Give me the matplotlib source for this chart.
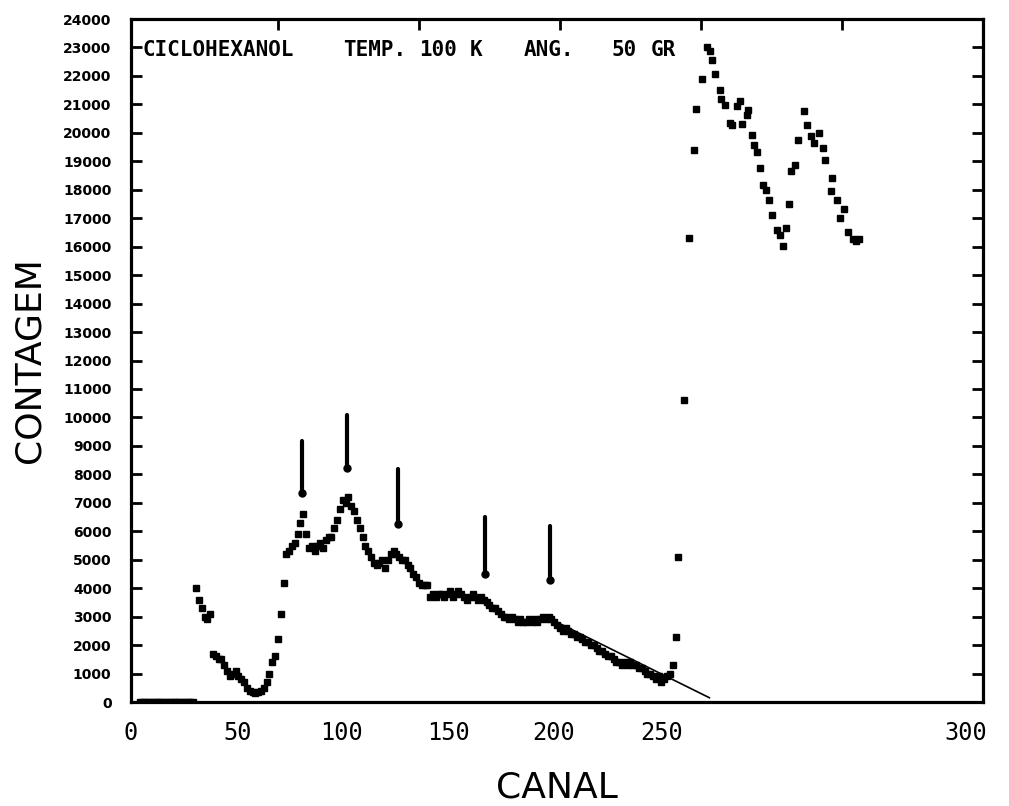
import matplotlib
matplotlib.use('Agg')
import matplotlib.pyplot as plt

# baseline channels (counts ~0)
canal_zero = list(range(1, 21))
contagem_zero = [0] * len(canal_zero)

# low channel region, one point per channel
canal_low = list(range(21, 193))
contagem_low = [
    4000, 3600, 3300, 3000, 2900, 3100, 1700, 1600, 1500, 1500,   # 21-30
    1300, 1100, 900, 1000, 1100, 900, 800, 700, 500, 400,         # 31-40
    350, 300, 350, 400, 500, 700, 1000, 1400, 1600, 2200,         # 41-50
    3100, 4200, 5200, 5300, 5500, 5600, 5900, 6300, 6600, 5900,   # 51-60
    5400, 5500, 5300, 5500, 5600, 5400, 5700, 5800, 5800, 6100,   # 61-70
    6400, 6800, 7100, 7000, 7200, 6900, 6700, 6400, 6100, 5800,   # 71-80
    5500, 5300, 5100, 4900, 4800, 4900, 5000, 4700, 5000, 5200,   # 81-90
    5300, 5200, 5100, 5000, 5000, 4800, 4700, 4500, 4400, 4200,   # 91-100
    4100, 4100, 4100, 3700, 3800, 3700, 3800, 3800, 3700, 3800,   # 101-110
    3900, 3700, 3800, 3900, 3800, 3700, 3600, 3700, 3800, 3700,   # 111-120
    3600, 3700, 3600, 3500, 3400, 3300, 3300, 3200, 3100, 3000,   # 121-130
    3000, 2900, 3000, 2900, 2800, 2900, 2800, 2800, 2900, 2800,   # 131-140
    2900, 2800, 2900, 3000, 2900, 3000, 2900, 2800, 2700, 2600,   # 141-150
    2500, 2600, 2500, 2400, 2400, 2300, 2300, 2200, 2100, 2100,   # 151-160
    2000, 2000, 1900, 1800, 1800, 1700, 1600, 1600, 1500, 1400,   # 161-170
    1400, 1300, 1400, 1300, 1400, 1300, 1300, 1200, 1200, 1100,   # 171-180
    1000, 1000, 900, 800, 900, 700, 800, 900, 1000, 1300,         # 181-190
    2300, 5100,                                                   # 191-192
]

# high channel region (read point by point)
canal_high = [194, 195.7, 197.5, 198.2, 200.4, 202.1, 203.3, 203.9, 205, 206.8,
              207.2, 208.6, 210.3, 211, 212.7, 213.9, 214.4, 216.2, 216.8, 218,
              218.9, 220, 221.1, 222, 222.9, 224, 225.2, 227, 228.2, 229.1,
              230.3, 231.1, 232, 233.2, 234.4, 236.4, 237.7, 239.1, 240.2, 241.7,
              243.2, 244.1, 246.1, 246.4, 248.2, 249.4, 250.8, 252.2, 253.8, 255, 256.1]
contagem_high = [10600, 16300, 19400, 20840, 21900, 23030, 22860, 22570, 22070, 21490,
                 21185, 20985, 20340, 20280, 20950, 21110, 20320, 20630, 20810, 19930,
                 19580, 19340, 18780, 18170, 18000, 17650, 17120, 16590, 16410, 16030,
                 16650, 17490, 18660, 18870, 19750, 20770, 20280, 19900, 19640, 20010,
                 19460, 19050, 17970, 18410, 17650, 17000, 17320, 16530, 16260, 16200, 16260]

# background line under the tail
linha_canal = [146, 203]
linha_contagem = [2950, 150]

# arrows marking the peaks: channel, top, tip
seta_canal = [58.5, 74.6, 92.6, 123.6, 146.5]
seta_topo = [9170, 10100, 8190, 6500, 6200]
seta_ponta = [7350, 8230, 6250, 4500, 4300]

yticks = list(range(0, 24001, 1000))
xtick_pos = [-2.1, 35.6, 72.5, 110.6, 147.9, 185.9, 294.0]
xtick_lab = ['0', '50', '100', '150', '200', '250', '300']

fig = plt.figure(figsize=(10.09, 8.06), dpi=100)
ax = fig.add_axes([0.1298, 0.129, 0.8444, 0.8474])
ax.set_xlim(0, 300)
ax.set_ylim(0, 24000)

ax.plot(canal_zero, contagem_zero, 'ks', ms=4)
ax.plot(canal_low, contagem_low, 'ks', ms=4)
ax.plot(canal_high, contagem_high, 'ks', ms=5)
ax.plot(linha_canal, linha_contagem, 'k-', lw=1.2)

for xc, yt, yp in zip(seta_canal, seta_topo, seta_ponta):
    ax.plot([xc, xc], [yt, yp], 'k-', lw=3, solid_capstyle='round')
    ax.plot(xc, yp, 'ko', ms=5)

for side in ['left', 'right', 'top', 'bottom']:
    ax.spines[side].set_linewidth(2.3)

ax.set_yticks(yticks)
ax.set_yticklabels([str(v) for v in yticks], fontsize=10, fontweight='bold')
ax.tick_params(axis='y', direction='in', length=8, width=2, right=True, pad=14)

ax.set_xticks(xtick_pos)
ax.set_xticklabels(xtick_lab, fontsize=17, family='DejaVu Sans Mono')
ax.tick_params(axis='x', direction='in', length=0, pad=14)
ax_top = ax.secondary_xaxis('top')
ax_top.set_xticks([50, 100, 150, 200, 250])
ax_top.tick_params(direction='in', length=8, width=2, labeltop=False)

palavras = ['CICLOHEXANOL', 'TEMP.', '100', 'K', 'ANG.', '50', 'GR']
pal_x = [0.013, 0.249, 0.338, 0.398, 0.461, 0.564, 0.610]
for p, px in zip(palavras, pal_x):
    ax.text(px, 0.955, p, transform=ax.transAxes, fontsize=15, fontweight='bold',
            family='DejaVu Sans Mono', va='center', ha='left')

ax.set_ylabel('CONTAGEM', fontsize=26, labelpad=12)
ax.set_xlabel('CANAL', fontsize=26, labelpad=18)

fig.savefig('out.png', dpi=100)
